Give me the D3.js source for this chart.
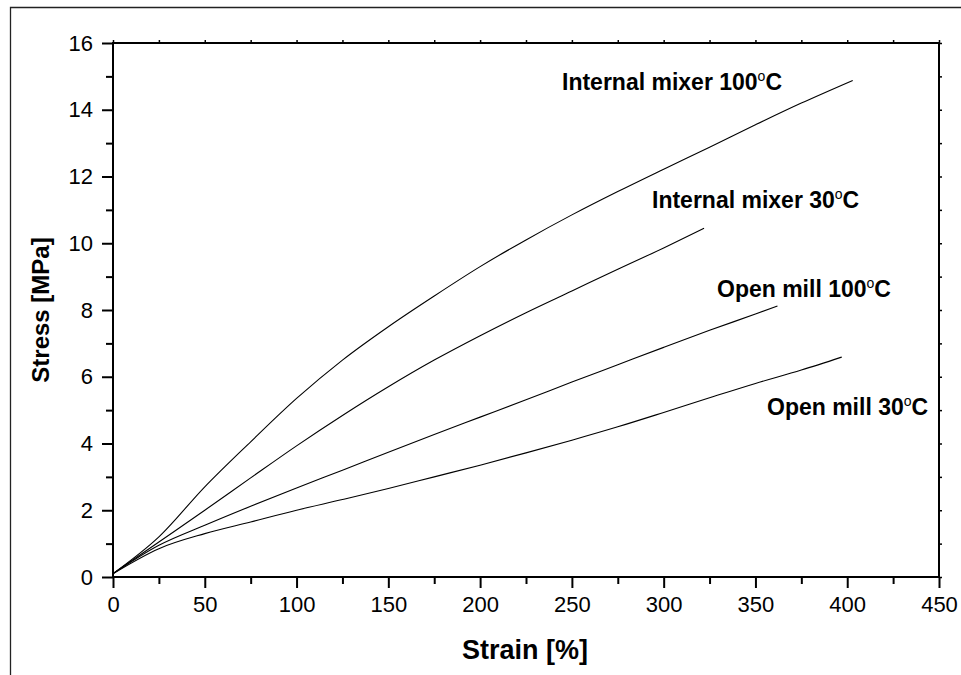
<!DOCTYPE html>
<html>
<head>
<meta charset="utf-8">
<script src="https://cdn.jsdelivr.net/npm/d3@7"></script>
<style>
  html, body { margin: 0; padding: 0; background: #fff; }
  svg { display: block; font-family: Arial, "Liberation Sans", sans-serif; }
</style>
</head>
<body>
<script>
// ---- data ----
const xTicks = [0, 50, 100, 150, 200, 250, 300, 350, 400, 450];
const yTicks = [0, 2, 4, 6, 8, 10, 12, 14, 16];

const seriesNames = ["Internal mixer 100", "Internal mixer 30", "Open mill 100", "Open mill 30"];

const im100Strain = [0, 25, 50, 75, 100, 125, 150, 175, 200, 225, 250, 275, 300, 325, 350, 375, 403];
const im100Stress = [0.1, 1.2, 2.7, 4.05, 5.35, 6.5, 7.5, 8.42, 9.3, 10.1, 10.85, 11.55, 12.22, 12.88, 13.55, 14.2, 14.88];

const im30Strain = [0, 25, 50, 75, 100, 125, 150, 175, 200, 225, 250, 275, 300, 322];
const im30Stress = [0.1, 1.05, 2.0, 2.97, 3.93, 4.84, 5.7, 6.5, 7.23, 7.92, 8.57, 9.22, 9.86, 10.45];

const om100Strain = [0, 25, 50, 75, 100, 125, 150, 175, 200, 225, 250, 275, 300, 325, 350, 362];
const om100Stress = [0.1, 0.95, 1.55, 2.12, 2.67, 3.2, 3.74, 4.27, 4.79, 5.31, 5.84, 6.36, 6.88, 7.39, 7.88, 8.12];

const om30Strain = [0, 25, 50, 75, 100, 125, 150, 175, 200, 225, 250, 275, 300, 325, 350, 375, 397];
const om30Stress = [0.1, 0.85, 1.3, 1.65, 2.0, 2.32, 2.65, 3.0, 3.35, 3.72, 4.1, 4.5, 4.93, 5.37, 5.8, 6.2, 6.59];

// ---- layout ----
const W = 961, H = 675;
const x0 = 113, x1 = 939, y0 = 577, y1 = 43;

const svg = d3.select("body").append("svg").attr("width", W).attr("height", H);

// outer frame (partially visible)
svg.append("path")
  .attr("d", `M10.5,${H} L10.5,7.5 L${W},7.5`)
  .attr("fill", "none").attr("stroke", "#222").attr("stroke-width", 1.3);

const x = d3.scaleLinear().domain([0, 450]).range([x0, x1]);
const y = d3.scaleLinear().domain([0, 16]).range([y0, y1]);

const minorX = d3.range(0, 451, 25);
const minorY = d3.range(0, 17, 1);

// bottom axis: minor ticks
svg.append("g").attr("transform", `translate(0,${y0})`)
  .call(d3.axisBottom(x).tickValues(minorX.filter(v => v % 50 !== 0)).tickSize(7).tickFormat(""))
  .call(g => g.select(".domain").remove())
  .call(g => g.selectAll("line").attr("stroke-width", 2));
// bottom axis: major
svg.append("g").attr("transform", `translate(0,${y0})`)
  .call(d3.axisBottom(x).tickValues(xTicks).tickSize(11).tickPadding(8).tickFormat(d3.format("d")))
  .call(g => g.select(".domain").remove())
  .call(g => g.selectAll("line").attr("stroke-width", 2))
  .call(g => g.selectAll("text").attr("font-size", 22).attr("fill", "#000")
      .attr("font-family", "Arial, 'Liberation Sans', sans-serif"));

// left axis minor
svg.append("g").attr("transform", `translate(${x0},0)`)
  .call(d3.axisLeft(y).tickValues(minorY.filter(v => v % 2 !== 0)).tickSize(7).tickFormat(""))
  .call(g => g.select(".domain").remove())
  .call(g => g.selectAll("line").attr("stroke-width", 2));
// left axis major
svg.append("g").attr("transform", `translate(${x0},0)`)
  .call(d3.axisLeft(y).tickValues(yTicks).tickSize(11).tickPadding(9).tickFormat(d3.format("d")))
  .call(g => g.select(".domain").remove())
  .call(g => g.selectAll("line").attr("stroke-width", 2))
  .call(g => g.selectAll("text").attr("font-size", 22).attr("fill", "#000")
      .attr("font-family", "Arial, 'Liberation Sans', sans-serif"));

// top axis small ticks
svg.append("g").attr("transform", `translate(0,${y1})`)
  .call(d3.axisTop(x).tickValues(minorX).tickSize(3).tickFormat(""))
  .call(g => g.select(".domain").remove())
  .call(g => g.selectAll("line").attr("stroke-width", 1.5));
// right axis small ticks
svg.append("g").attr("transform", `translate(${x1},0)`)
  .call(d3.axisRight(y).tickValues(minorY).tickSize(3).tickFormat(""))
  .call(g => g.select(".domain").remove())
  .call(g => g.selectAll("line").attr("stroke-width", 1.5));

// plot frame
svg.append("rect")
  .attr("x", x0).attr("y", y1).attr("width", x1 - x0).attr("height", y0 - y1)
  .attr("fill", "none").attr("stroke", "#000").attr("stroke-width", 2);

// curves
const allSeries = [
  d3.zip(im100Strain, im100Stress),
  d3.zip(im30Strain, im30Stress),
  d3.zip(om100Strain, om100Stress),
  d3.zip(om30Strain, om30Stress)
];
const line = d3.line().x(d => x(d[0])).y(d => y(d[1])).curve(d3.curveMonotoneX);
svg.append("g").selectAll("path").data(allSeries).join("path")
  .attr("d", line).attr("fill", "none").attr("stroke", "#000").attr("stroke-width", 1.1);

// annotations
const labelPos = [[562, 90], [652, 208], [717, 297], [767, 415]];
seriesNames.forEach((name, i) => {
  const t = svg.append("text")
    .attr("x", labelPos[i][0]).attr("y", labelPos[i][1])
    .attr("font-size", 23).attr("font-weight", "bold").attr("fill", "#000");
  t.append("tspan").text(name);
  t.append("tspan").attr("font-size", 14).attr("font-weight", "normal").attr("dy", -9).text("o");
  t.append("tspan").attr("dy", 9).text("C");
});

// axis titles
svg.append("text").attr("x", 525).attr("y", 659)
  .attr("text-anchor", "middle").attr("font-size", 27).attr("font-weight", "bold")
  .text("Strain [%]");
svg.append("text")
  .attr("transform", `translate(49,${(y0 + y1) / 2}) rotate(-90)`)
  .attr("text-anchor", "middle").attr("font-size", 24).attr("font-weight", "bold")
  .text("Stress [MPa]");
</script>
</body>
</html>
